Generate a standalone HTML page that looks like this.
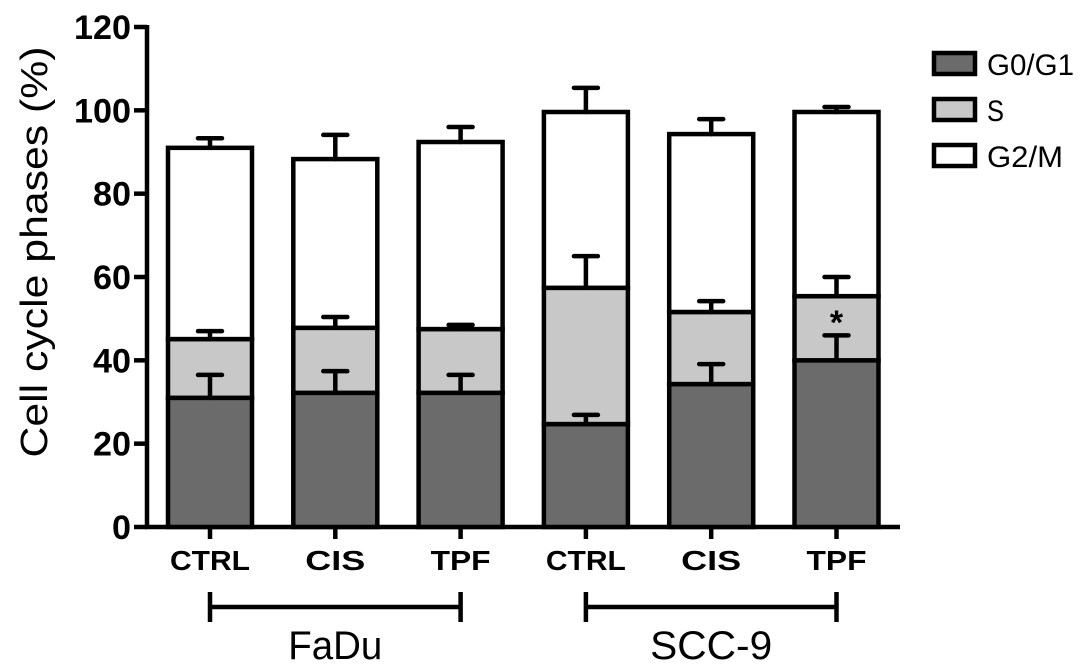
<!DOCTYPE html>
<html><head><meta charset="utf-8"><style>
html,body{margin:0;padding:0;background:#fff;}
svg{display:block;font-family:"Liberation Sans",Arial,sans-serif;}
</style></head><body>
<svg id="chart" width="1087" height="672" viewBox="0 0 1087 672"></svg>
<script>
const categories = ["CTRL","CIS","TPF","CTRL","CIS","TPF"];
const g0g1 = [31.0, 32.2, 32.2, 24.7, 34.3, 40.0];
const sTop = [45.1, 47.8, 47.5, 57.4, 51.6, 55.4];
const total = [91.0, 88.3, 92.4, 99.6, 94.3, 99.6];
const g0g1Err = [36.5, 37.4, 36.5, 26.9, 39.1, 46.0];
const sErr = [47.0, 50.4, 48.5, 65.0, 54.2, 60.0];
const totalErr = [93.3, 94.1, 96.0, 105.4, 97.9, 100.8];
const yTicks = [0,20,40,60,80,100,120];
const groups = [{name:"FaDu",from:0,to:2,w:94},{name:"SCC-9",from:3,to:5,w:122}];
const starred = [5];

const NS="http://www.w3.org/2000/svg";
const svg=document.getElementById('chart');
const y0=527, pxPer=500/120;
const Y=v=>y0-v*pxPer;
const X=i=>210+125.3*i;
const BW=84, SW=4.5;
function el(tag,attrs,parent){const e=document.createElementNS(NS,tag);for(const k in attrs)e.setAttribute(k,attrs[k]);(parent||svg).appendChild(e);return e;}

let ax=el('line',{x1:147,y1:Y(120)-2,x2:147,y2:y0+2,stroke:'#000','stroke-width':SW});


let xax=el('line',{x1:145,y1:y0,x2:900,y2:y0,stroke:'#000','stroke-width':SW});


yTicks.forEach(t=>{
  let tk=el('line',{x1:134,y1:Y(t),x2:147,y2:Y(t),stroke:'#000','stroke-width':SW});
  
  
  const s=String(t);
  let tl=el('text',{x:131,y:Y(t)+12,'text-anchor':'end','font-size':34,'font-weight':'bold',textLength:19*s.length,lengthAdjust:'spacingAndGlyphs'});
  tl.textContent=s;
  
  
});
let yt=el('text',{x:0,y:0,transform:'translate(47,252) rotate(-90)','text-anchor':'middle','font-size':38,textLength:411,lengthAdjust:'spacingAndGlyphs'});
yt.textContent='Cell cycle phases (%)';



categories.forEach((c,i)=>{
  const cx=X(i), l=cx-BW/2;
  const segs=[[0,g0g1[i],'#6b6b6b','bar-g0g1'],[g0g1[i],sTop[i],'#c8c8c8','bar-s'],[sTop[i],total[i],'#ffffff','bar-g2m']];
  const errs=[[g0g1[i],g0g1Err[i]],[sTop[i],sErr[i]],[total[i],totalErr[i]]];
  segs.forEach(s=>{
    let r=el('rect',{x:l,y:Y(s[1]),width:BW,height:Y(s[0])-Y(s[1]),fill:s[2],stroke:'#000','stroke-width':SW});
    
    
  });
  errs.forEach(e=>{
    let g=el('path',{d:`M${cx},${Y(e[0])} V${Y(e[1])} M${cx-12},${Y(e[1])} H${cx+12}`,stroke:'#000','stroke-width':SW,'stroke-linecap':'round',fill:'none'});
    
    
  });
  let tk=el('line',{x1:cx,y1:y0,x2:cx,y2:y0+12,stroke:'#000','stroke-width':SW});
  
  
  let tl=el('text',{x:cx,y:570,'text-anchor':'middle','font-size':28,'font-weight':'bold',textLength:c.length*20,lengthAdjust:'spacingAndGlyphs'});
  tl.textContent=c;
  
  
});
starred.forEach(i=>{
  let s=el('text',{x:X(i),y:(Y(sTop[i])+Y(g0g1Err[i]))/2+18,'text-anchor':'middle','font-size':34,'font-weight':'bold'});
  s.textContent='*';
  
  
});
groups.forEach(g=>{
  const a=X(g.from), b=X(g.to);
  let br=el('path',{d:`M${a},592 V622 M${a},607 H${b} M${b},592 V622`,stroke:'#000','stroke-width':SW,fill:'none'});
  
  
  let gt=el('text',{x:(a+b)/2,y:659,'text-anchor':'middle','font-size':40,textLength:g.w,lengthAdjust:'spacingAndGlyphs'});
  gt.textContent=g.name;
  
  
});
const legend=[["G0/G1",'#6b6b6b',51,87],["S",'#c8c8c8',97,17],["G2/M",'#ffffff',143,76]];
legend.forEach(L=>{
  let r=el('rect',{x:934,y:L[2]+2,width:41,height:21,fill:L[1],stroke:'#000','stroke-width':SW});
  
  
  let t=el('text',{x:987,y:L[2]+24,'font-size':30,textLength:L[3],lengthAdjust:'spacingAndGlyphs'});
  t.textContent=L[0];
  
  
});
</script>
</body></html>
